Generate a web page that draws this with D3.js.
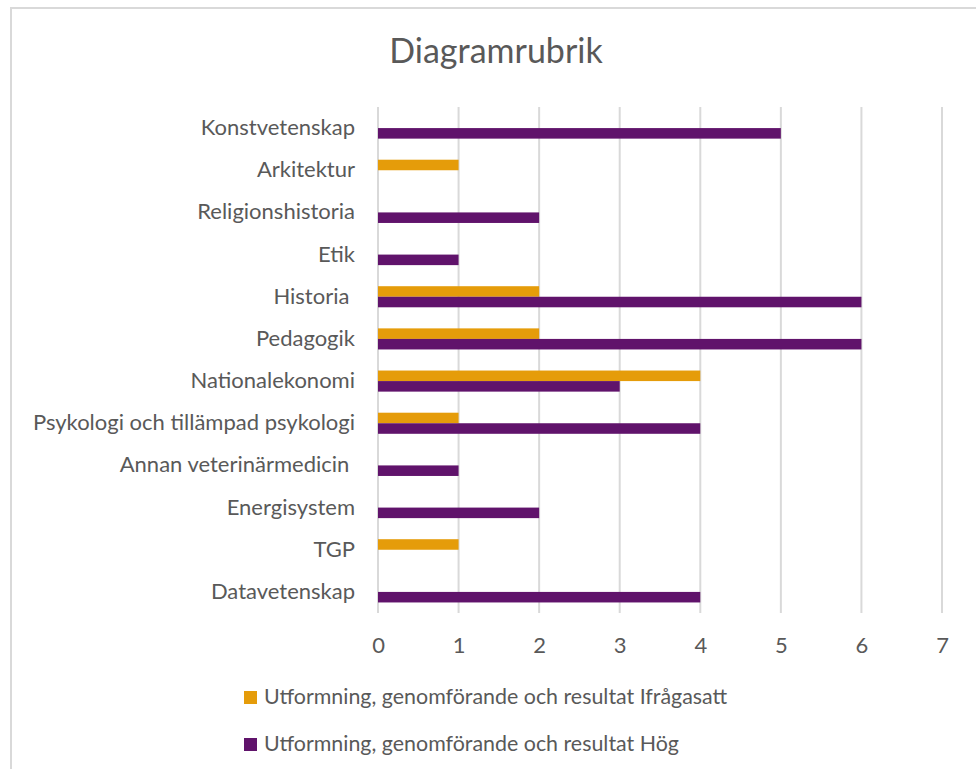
<!DOCTYPE html>
<html>
<head>
<meta charset="utf-8">
<script src="https://cdn.jsdelivr.net/npm/d3@7"></script>
<style>
  body { margin: 0; background: #fff; }
  text { font-family: Lato, "Open Sans", sans-serif; fill: #595959; }
</style>
</head>
<body>
<div id="chart"></div>
<script>
const categories = ["Konstvetenskap", "Arkitektur", "Religionshistoria", "Etik", "Historia ", "Pedagogik",
  "Nationalekonomi", "Psykologi och tillämpad psykologi", "Annan veterinärmedicin ", "Energisystem", "TGP", "Datavetenskap"];
const seriesNames = ["Utformning, genomförande och resultat Ifrågasatt", "Utformning, genomförande och resultat Hög"];
const ifragasatt = [0, 1, 0, 0, 2, 2, 4, 1, 0, 0, 1, 0];
const hog = [5, 0, 2, 1, 6, 6, 3, 4, 1, 2, 0, 4];
const xTicks = [0, 1, 2, 3, 4, 5, 6, 7];
const colors = ["#E59C0A", "#60136B"];

const W = 976, H = 769;
const margin = {top: 107, left: 378, right: 34, bottom: 156};

const svg = d3.select("#chart").append("svg")
  .attr("width", W).attr("height", H);

// chart frame
svg.append("rect")
  .attr("x", 11).attr("y", 8).attr("width", W + 20).attr("height", H + 20)
  .attr("fill", "#fff").attr("stroke", "#d9d9d9").attr("stroke-width", 2);

svg.append("text")
  .attr("x", 496).attr("y", 63)
  .attr("text-anchor", "middle")
  .style("font-size", "34px")
  .text("Diagramrubrik");

const x = d3.scaleLinear().domain([0, 7]).range([margin.left, W - margin.right]);
const y = d3.scaleBand().domain(categories).range([margin.top, H - margin.bottom]).padding(0);
const inner = d3.scaleBand().domain([0, 1]).range([y.bandwidth() * 0.25, y.bandwidth() * 0.75]);

// gridlines
svg.append("g")
  .selectAll("line").data(xTicks).join("line")
  .attr("x1", d => x(d)).attr("x2", d => x(d))
  .attr("y1", margin.top).attr("y2", H - margin.bottom)
  .attr("stroke", "#d9d9d9").attr("stroke-width", 2);

// x axis labels
const xAxis = svg.append("g")
  .attr("transform", `translate(0,${H - margin.bottom})`)
  .call(d3.axisBottom(x).tickValues(xTicks).tickSize(0).tickPadding(24).tickFormat(d3.format("d")));
xAxis.select(".domain").remove();
xAxis.selectAll("text").style("font-size", "22px").attr("fill", "#595959").style("font-family", "Lato, sans-serif");

// y axis labels (keep trailing spaces like the original)
const yAxis = svg.append("g")
  .attr("transform", `translate(${margin.left},0)`)
  .call(d3.axisLeft(y).tickSize(0).tickPadding(23));
yAxis.select(".domain").remove();
yAxis.selectAll("text").style("font-size", "22px").attr("fill", "#595959")
  .style("font-family", "Lato, sans-serif").style("white-space", "pre");

// bars
const series = [ifragasatt, hog];
series.forEach((vals, si) => {
  svg.append("g")
    .selectAll("rect").data(vals).join("rect")
    .attr("x", x(0))
    .attr("y", (d, i) => y(categories[i]) + inner(si))
    .attr("width", d => x(d) - x(0))
    .attr("height", inner.bandwidth())
    .attr("fill", colors[si]);
});

// legend
const legend = svg.append("g")
  .selectAll("g").data(seriesNames).join("g")
  .attr("transform", (d, i) => `translate(244,${691 + i * 47})`);
legend.append("rect").attr("width", 13).attr("height", 13).attr("fill", (d, i) => colors[i]);
legend.append("text").attr("x", 20).attr("y", 13)
  .style("font-size", "21.4px").text(d => d);
</script>
</body>
</html>
